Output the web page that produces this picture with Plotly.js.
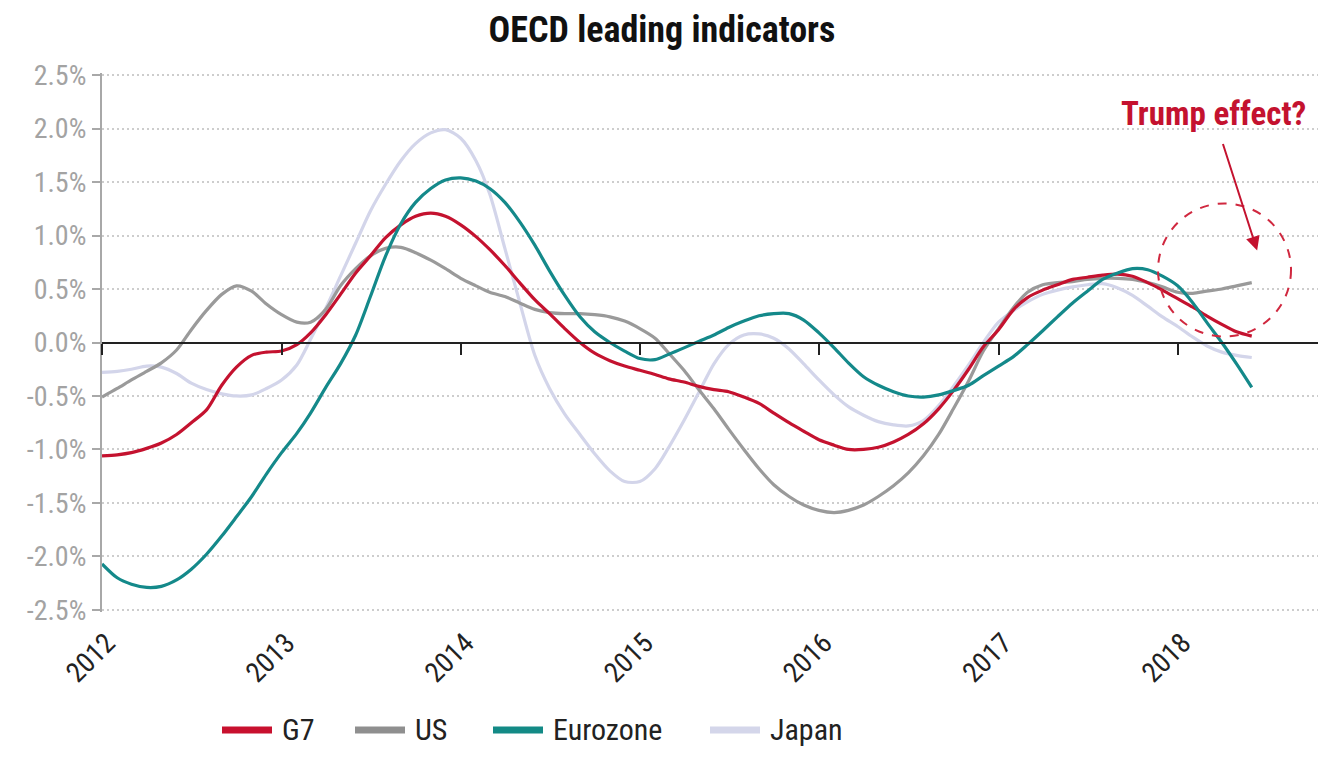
<!DOCTYPE html>
<html>
<head>
<meta charset="utf-8">
<script src="https://cdn.plot.ly/plotly-3.0.1.min.js"></script>
<style>
html,body{margin:0;padding:0;background:#fff;}
#chart{width:1324px;height:774px;}
</style>
</head>
<body>
<div id="chart"></div>
<script>
// ---- Data (monthly, Jan 2012 – Jun 2018), % ----
const startYear = 2012, startMonth = 1, nMonths = 78;

const g7 = [
 -1.06,-1.05,-1.03,-0.99,-0.94,-0.86,-0.75,-0.63,-0.40,-0.23,-0.12,-0.09,
 -0.08,-0.02, 0.09, 0.26, 0.45, 0.65, 0.81, 0.98, 1.10, 1.18, 1.21, 1.18,
  1.10, 0.99, 0.87, 0.72, 0.56, 0.40, 0.27, 0.13, 0.00,-0.10,-0.17,-0.22,
 -0.26,-0.30,-0.34,-0.37,-0.41,-0.44,-0.46,-0.51,-0.57,-0.66,-0.75,-0.83,
 -0.91,-0.96,-1.00,-1.00,-0.98,-0.93,-0.86,-0.76,-0.62,-0.45,-0.25,-0.04,
  0.12, 0.31, 0.42, 0.49, 0.54, 0.59, 0.61, 0.63, 0.64, 0.62, 0.56, 0.49,
  0.41, 0.33, 0.25, 0.17, 0.10, 0.06
];
const us = [
 -0.51,-0.43,-0.35,-0.27,-0.19,-0.07, 0.12, 0.30, 0.45, 0.53, 0.48, 0.36,
  0.26, 0.19, 0.19, 0.31, 0.53, 0.69, 0.81, 0.88, 0.89, 0.84, 0.77, 0.69,
  0.60, 0.53, 0.47, 0.43, 0.37, 0.31, 0.28, 0.27, 0.27, 0.26, 0.24, 0.20,
  0.13, 0.04,-0.10,-0.26,-0.44,-0.62,-0.81,-1.00,-1.18,-1.33,-1.44,-1.52,
 -1.57,-1.59,-1.57,-1.52,-1.44,-1.34,-1.22,-1.06,-0.86,-0.62,-0.36,-0.08,
  0.13, 0.33, 0.47, 0.54, 0.56, 0.57, 0.59, 0.60, 0.60, 0.59, 0.56, 0.52,
  0.47, 0.46, 0.48, 0.50, 0.53, 0.56
];
const eurozone = [
 -2.07,-2.20,-2.26,-2.29,-2.28,-2.22,-2.12,-1.98,-1.81,-1.63,-1.44,-1.23,
 -1.03,-0.85,-0.66,-0.42,-0.20, 0.07, 0.43, 0.81, 1.11, 1.31, 1.44, 1.52,
  1.54, 1.51, 1.44, 1.31, 1.13, 0.91, 0.67, 0.44, 0.24, 0.10, 0.00,-0.08,
 -0.15,-0.16,-0.11,-0.05, 0.01, 0.07, 0.14, 0.20, 0.25, 0.27, 0.27, 0.21,
  0.09,-0.05,-0.19,-0.32,-0.40,-0.46,-0.50,-0.51,-0.49,-0.45,-0.40,-0.31,
 -0.22,-0.13,-0.02, 0.11, 0.24, 0.37, 0.48, 0.59, 0.65, 0.69, 0.68, 0.62,
  0.53, 0.37, 0.19, 0.00,-0.20,-0.42
];
const japan = [
 -0.28,-0.27,-0.25,-0.22,-0.23,-0.29,-0.38,-0.44,-0.48,-0.50,-0.49,-0.43,
 -0.35,-0.21, 0.03, 0.32, 0.62, 0.93, 1.23, 1.48, 1.70, 1.86, 1.96, 1.99,
  1.91, 1.70, 1.39, 0.88, 0.38,-0.12,-0.43,-0.67,-0.86,-1.04,-1.20,-1.30,
 -1.30,-1.18,-0.98,-0.73,-0.47,-0.20,-0.02, 0.07, 0.08, 0.04,-0.06,-0.20,
 -0.35,-0.49,-0.60,-0.68,-0.74,-0.77,-0.78,-0.73,-0.59,-0.41,-0.21, 0.00,
  0.19, 0.30, 0.38, 0.45, 0.49, 0.52, 0.54, 0.55, 0.51, 0.44, 0.34, 0.24,
  0.15, 0.05,-0.03,-0.09,-0.12,-0.14
];

const yearTicks = ['2012-01-01','2013-01-01','2014-01-01','2015-01-01','2016-01-01','2017-01-01','2018-01-01'];
const yearLabels = ['2012','2013','2014','2015','2016','2017','2018'];
const yTickVals = [-2.5,-2.0,-1.5,-1.0,-0.5,0,0.5,1.0,1.5,2.0,2.5];
const yTickText = ['-2.5%','-2.0%','-1.5%','-1.0%','-0.5%','0.0%','0.5%','1.0%','1.5%','2.0%','2.5%'];

const seriesNames = ['G7','US','Eurozone','Japan'];
const seriesColors = ['#c4122f','#9a9a9a','#14898a','#d3d5ea'];
const legendColors = ['#c8102e','#8f8f8f','#138a86','#d4d6ea'];

// month dates (x categories)
const dates = [];
for (let i = 0; i < nMonths; i++) {
  const y = startYear + Math.floor((startMonth - 1 + i) / 12);
  const m = ((startMonth - 1 + i) % 12) + 1;
  dates.push(y + '-' + String(m).padStart(2, '0') + '-01');
}

const FONT = '"Roboto Condensed","Liberation Sans Narrow","DejaVu Sans Condensed","Arial Narrow",Roboto,sans-serif';
const values = [g7, us, eurozone, japan];

const traces = [];
// drawing order: Japan, US, G7, Eurozone
[3,1,0,2].forEach(i => {
  traces.push({
    x: dates, y: values[i], type: 'scatter', mode: 'lines',
    name: seriesNames[i], showlegend: false, xaxis: 'x2', yaxis: 'y',
    line: {color: seriesColors[i], width: 3.2, shape: 'spline', smoothing: 0.8},
    hoverinfo: 'skip'
  });
});
// invisible trace on base x axis so it is drawn
traces.push({x: [null], y: [null], type: 'scatter', mode: 'lines', showlegend: false, xaxis: 'x', yaxis: 'y', hoverinfo: 'skip'});

const xRange = ['2012-01-01', '2018-10-14'];
const yRange = [-2.52, 2.52];

// layout geometry (pixels) for the hand-placed legend
const M = {l: 102, r: 6, t: 73, b: 162};
const plotW = 1324 - M.l - M.r, plotH = 774 - M.t - M.b;
const px2x = px => (px - M.l) / plotW;
const py2y = py => (774 - M.b - py) / plotH;
const legendStartPx = [222, 355, 493, 710];
const legendYPx = 730, legendSymLen = 50, legendTextGap = 8;

const shapes = [{
  type: 'circle', xref: 'x2', yref: 'y',
  x0: '2017-11-22', x1: '2018-08-20', y0: 0.056, y1: 1.30,
  line: {color: '#d0283f', width: 2, dash: 'dash'}
}];
const annotations = [{
  xref: 'x2', yref: 'y', x: '2018-06-12', y: 0.86,
  text: '<b>Trump effect?</b>', showarrow: true,
  ax: -44, ay: -137, arrowhead: 2, arrowsize: 1.4, arrowwidth: 2,
  arrowcolor: '#c4122f', startstandoff: 10, standoff: 0,
  font: {family: FONT, size: 33, color: '#c4122f'}
}];
seriesNames.forEach((name, i) => {
  shapes.push({
    type: 'line', xref: 'paper', yref: 'paper',
    x0: px2x(legendStartPx[i]), x1: px2x(legendStartPx[i] + legendSymLen),
    y0: py2y(legendYPx), y1: py2y(legendYPx),
    line: {color: legendColors[i], width: 7}
  });
  annotations.push({
    xref: 'paper', yref: 'paper',
    x: px2x(legendStartPx[i] + legendSymLen + legendTextGap), y: py2y(legendYPx - 1),
    xanchor: 'left', yanchor: 'middle', showarrow: false,
    text: name, font: {family: FONT, size: 30, color: '#222'}
  });
});

const layout = {
  width: 1324, height: 774,
  paper_bgcolor: '#ffffff', plot_bgcolor: '#ffffff',
  margin: M,
  font: {family: FONT, color: '#222'},
  title: {
    text: '<b>OECD leading indicators</b>',
    font: {family: FONT, size: 36, color: '#111'},
    x: 0.5, xanchor: 'center', xref: 'container',
    y: 0.962, yanchor: 'middle', yref: 'container'
  },
  xaxis: {
    type: 'date', range: xRange,
    tickmode: 'array', tickvals: yearTicks, ticktext: yearLabels,
    tickangle: -45, ticks: '', showline: false, showgrid: false, zeroline: false,
    ticklabelstandoff: 8, ticklabelshift: 5,
    tickfont: {family: FONT, size: 28, color: '#222'},
    fixedrange: true
  },
  xaxis2: {
    type: 'date', range: xRange, overlaying: 'x', anchor: 'free', position: 0.5, side: 'bottom',
    tickmode: 'array', tickvals: yearTicks, showticklabels: false,
    ticks: 'outside', ticklen: 11, tickwidth: 2, tickcolor: '#222',
    showline: true, linecolor: '#222', linewidth: 2,
    showgrid: false, zeroline: false, fixedrange: true
  },
  yaxis: {
    range: yRange, tickmode: 'array', tickvals: yTickVals, ticktext: yTickText,
    ticks: 'outside', ticklen: 8, tickwidth: 2, tickcolor: '#a8a8a8',
    showline: true, linecolor: '#a8a8a8', linewidth: 2,
    showgrid: true, gridcolor: '#cdcdcd', gridwidth: 2, griddash: '2px,3px',
    zeroline: false,
    tickfont: {family: FONT, size: 28, color: '#a3a3a3'},
    fixedrange: true
  },
  showlegend: false,
  shapes: shapes,
  annotations: annotations
};

Plotly.newPlot('chart', traces, layout, {displayModeBar: false, staticPlot: true});
</script>
</body>
</html>
